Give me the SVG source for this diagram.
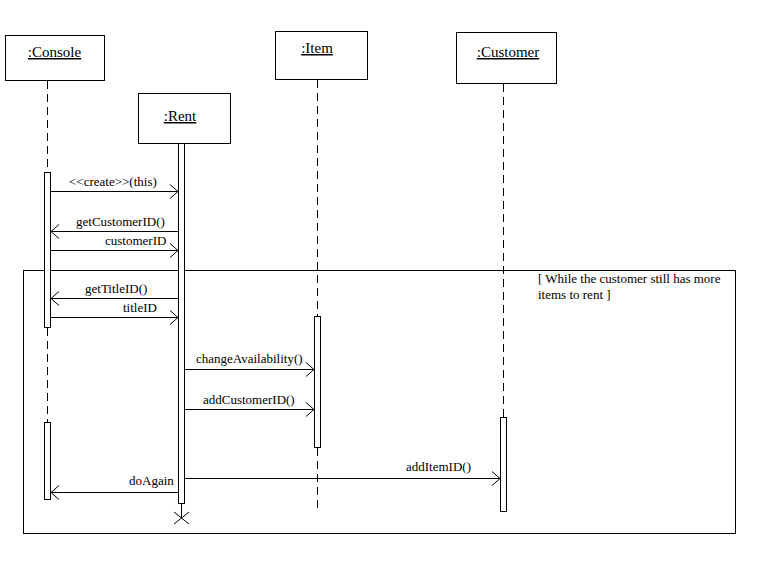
<svg xmlns="http://www.w3.org/2000/svg" width="764" height="567" viewBox="0 0 764 567">
<style>
.box{fill:#fff;stroke:#000;stroke-width:1}
.life{stroke:#000;stroke-width:1;stroke-dasharray:8,5;fill:none}
.bar{fill:#fff;stroke:#000;stroke-width:1}
.msg{stroke:#000;stroke-width:1;fill:none}
.lbl{font-family:"Liberation Serif","Times New Roman",serif;font-size:13px;fill:#000}
.name{font-family:"Liberation Serif","Times New Roman",serif;font-size:15px;fill:#000;text-decoration:underline}
</style>
<defs>
<marker id="open" markerUnits="userSpaceOnUse" markerWidth="12" markerHeight="16" refX="9" refY="8" orient="auto">
<path d="M1,1 L9,8 L1,15" fill="none" stroke="#000" stroke-width="1"/>
</marker>
</defs>
<rect x="0" y="0" width="764" height="567" fill="#fff"/>

<g id="frame">
<rect x="23.5" y="270.5" width="712" height="263" fill="none" stroke="#000" stroke-width="1"/>
<text class="lbl" x="538" y="283">[ While the customer still has more</text>
<text class="lbl" x="538" y="299">items to rent ]</text>
</g>

<g id="console">
<rect class="box" x="5.5" y="35.5" width="99" height="45"/>
<text class="name" x="54.5" y="57" text-anchor="middle">:Console</text>
<line class="life" x1="47.5" y1="81" x2="47.5" y2="499"/>
<rect class="bar" x="44.5" y="172.5" width="6" height="155"/>
<rect class="bar" x="44.5" y="422.5" width="6" height="77"/>
</g>

<g id="rent">
<rect class="box" x="138.5" y="93.5" width="92" height="50"/>
<text class="name" x="180" y="121" text-anchor="middle">:Rent</text>
<rect class="bar" x="178.5" y="143.5" width="6" height="360"/>
<line x1="181.5" y1="504" x2="181.5" y2="518" stroke="#000"/>
<path d="M174,512 L189,524 M189,512 L174,524" stroke="#000" fill="none"/>
</g>

<g id="item">
<rect class="box" x="275.5" y="31.5" width="92" height="48"/>
<text class="name" x="317" y="53" text-anchor="middle">:Item</text>
<line class="life" x1="317.5" y1="80" x2="317.5" y2="316"/>
<rect class="bar" x="314.5" y="316.5" width="6" height="131"/>
<line class="life" x1="317.5" y1="448" x2="317.5" y2="512"/>
</g>

<g id="customer">
<rect class="box" x="456.5" y="32.5" width="100" height="51"/>
<text class="name" x="508" y="57" text-anchor="middle">:Customer</text>
<line class="life" x1="503.5" y1="84" x2="503.5" y2="417"/>
<rect class="bar" x="500.5" y="417.5" width="6" height="94"/>
</g>

<g id="connectors">
<line class="msg" x1="51" y1="191.5" x2="178" y2="191.5" marker-end="url(#open)"/>
<text class="lbl" x="69" y="186">&lt;&lt;create&gt;&gt;(this)</text>
<line class="msg" x1="178" y1="231.5" x2="51" y2="231.5" marker-end="url(#open)"/>
<text class="lbl" x="76" y="226">getCustomerID()</text>
<line class="msg" x1="51" y1="250.5" x2="178" y2="250.5" marker-end="url(#open)"/>
<text class="lbl" x="105" y="245">customerID</text>
<line class="msg" x1="178" y1="298.5" x2="51" y2="298.5" marker-end="url(#open)"/>
<text class="lbl" x="85" y="293">getTitleID()</text>
<line class="msg" x1="51" y1="317.5" x2="178" y2="317.5" marker-end="url(#open)"/>
<text class="lbl" x="123" y="312">titleID</text>
<line class="msg" x1="185" y1="369.5" x2="314" y2="369.5" marker-end="url(#open)"/>
<text class="lbl" x="196" y="363">changeAvailability()</text>
<line class="msg" x1="185" y1="409.5" x2="314" y2="409.5" marker-end="url(#open)"/>
<text class="lbl" x="203" y="404">addCustomerID()</text>
<line class="msg" x1="185" y1="478.5" x2="500" y2="478.5" marker-end="url(#open)"/>
<text class="lbl" x="406" y="471">addItemID()</text>
<line class="msg" x1="178" y1="492.5" x2="51" y2="492.5" marker-end="url(#open)"/>
<text class="lbl" x="129" y="485">doAgain</text>
</g>
</svg>
